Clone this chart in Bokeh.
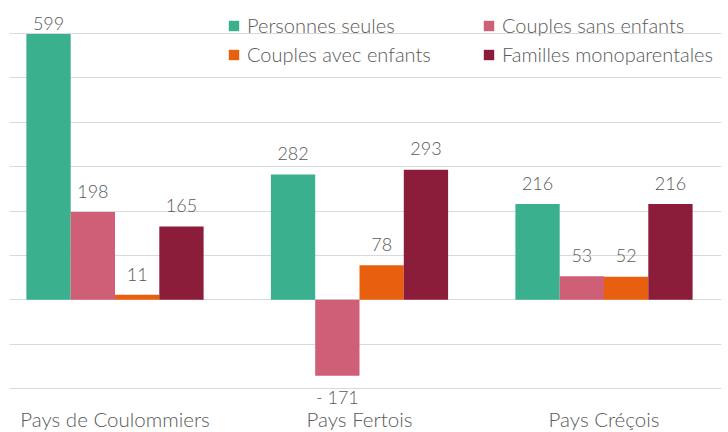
from bokeh.plotting import figure
from bokeh.models import FixedTicker, Legend, LegendItem, ColumnDataSource
from bokeh.core.properties import value
from bokeh.embed import file_html
from bokeh.resources import INLINE

categories = ["Pays de Coulommiers", "Pays Fertois", "Pays Créçois"]
series_names = ["Personnes seules", "Couples sans enfants", "Couples avec enfants", "Familles monoparentales"]
personnes_seules = [599, 282, 216]
couples_sans_enfants = [198, -171, 53]
couples_avec_enfants = [11, 78, 52]
familles_monoparentales = [165, 293, 216]
series_values = [personnes_seules, couples_sans_enfants, couples_avec_enfants, familles_monoparentales]
colors = ["#3BB08F", "#CF5F76", "#E8600F", "#8B1C3A"]
grid_ticks = [-200, -100, 0, 100, 200, 300, 400, 500, 600]

FONT = "Lato Light"
TXT = "#595959"

p = figure(width=725, height=431, output_backend="svg", toolbar_location=None,
           x_range=(-0.4315, 2.4806), y_range=(-296.9, 674.4),
           min_border_left=9, min_border_right=4, min_border_top=0, min_border_bottom=0)
p.outline_line_color = None
p.xaxis.visible = False
p.yaxis.visible = False
p.xgrid.visible = False
p.ygrid.ticker = FixedTicker(ticks=grid_ticks)
p.ygrid.grid_line_color = "#D9D9D9"
p.ygrid.grid_line_width = 1

# category labels
cat_src = ColumnDataSource(dict(x=list(range(len(categories))), y=[-268] * len(categories), t=categories))
p.text(x="x", y="y", text="t", source=cat_src, text_align="center", text_baseline="middle",
       text_font=value(FONT), text_font_size="20.5px", text_color=TXT)

bw = 0.1812
renderers = []
for k, (name, vals, col) in enumerate(zip(series_names, series_values, colors)):
    off = (k - 1.5) * bw
    xs = [i + off for i in range(len(categories))]
    src = ColumnDataSource(dict(
        x=xs, top=vals,
        ly=[min(v + 47, 622) if v >= 0 else v - 49 for v in vals],
        lbl=[str(v) if v >= 0 else "- " + str(abs(v)) for v in vals],
    ))
    r = p.vbar(x="x", top="top", bottom=0, width=bw, source=src, fill_color=col, line_color=None)
    renderers.append(r)
    p.text(x="x", y="ly", text="lbl", source=src, text_align="center", text_baseline="middle",
           text_font=value(FONT), text_font_size="18px", text_color=TXT)

def make_legend(idx, loc):
    lg = Legend(items=[LegendItem(label=series_names[i], renderers=[renderers[i]]) for i in idx],
                location=loc, orientation="vertical")
    lg.label_text_font = FONT
    lg.label_text_font_size = "20px"
    lg.label_text_color = TXT
    lg.label_text_baseline = "middle"
    lg.glyph_width = 13
    lg.glyph_height = 13
    lg.label_standoff = 7
    lg.label_height = 20
    lg.spacing = 5
    lg.padding = 0
    lg.margin = 0
    lg.border_line_color = None
    lg.background_fill_alpha = 0
    return lg

p.add_layout(make_legend([0, 2], (218, 365)))
p.add_layout(make_legend([1, 3], (473, 365)))

open("out.html", "w").write(file_html(p, INLINE))
